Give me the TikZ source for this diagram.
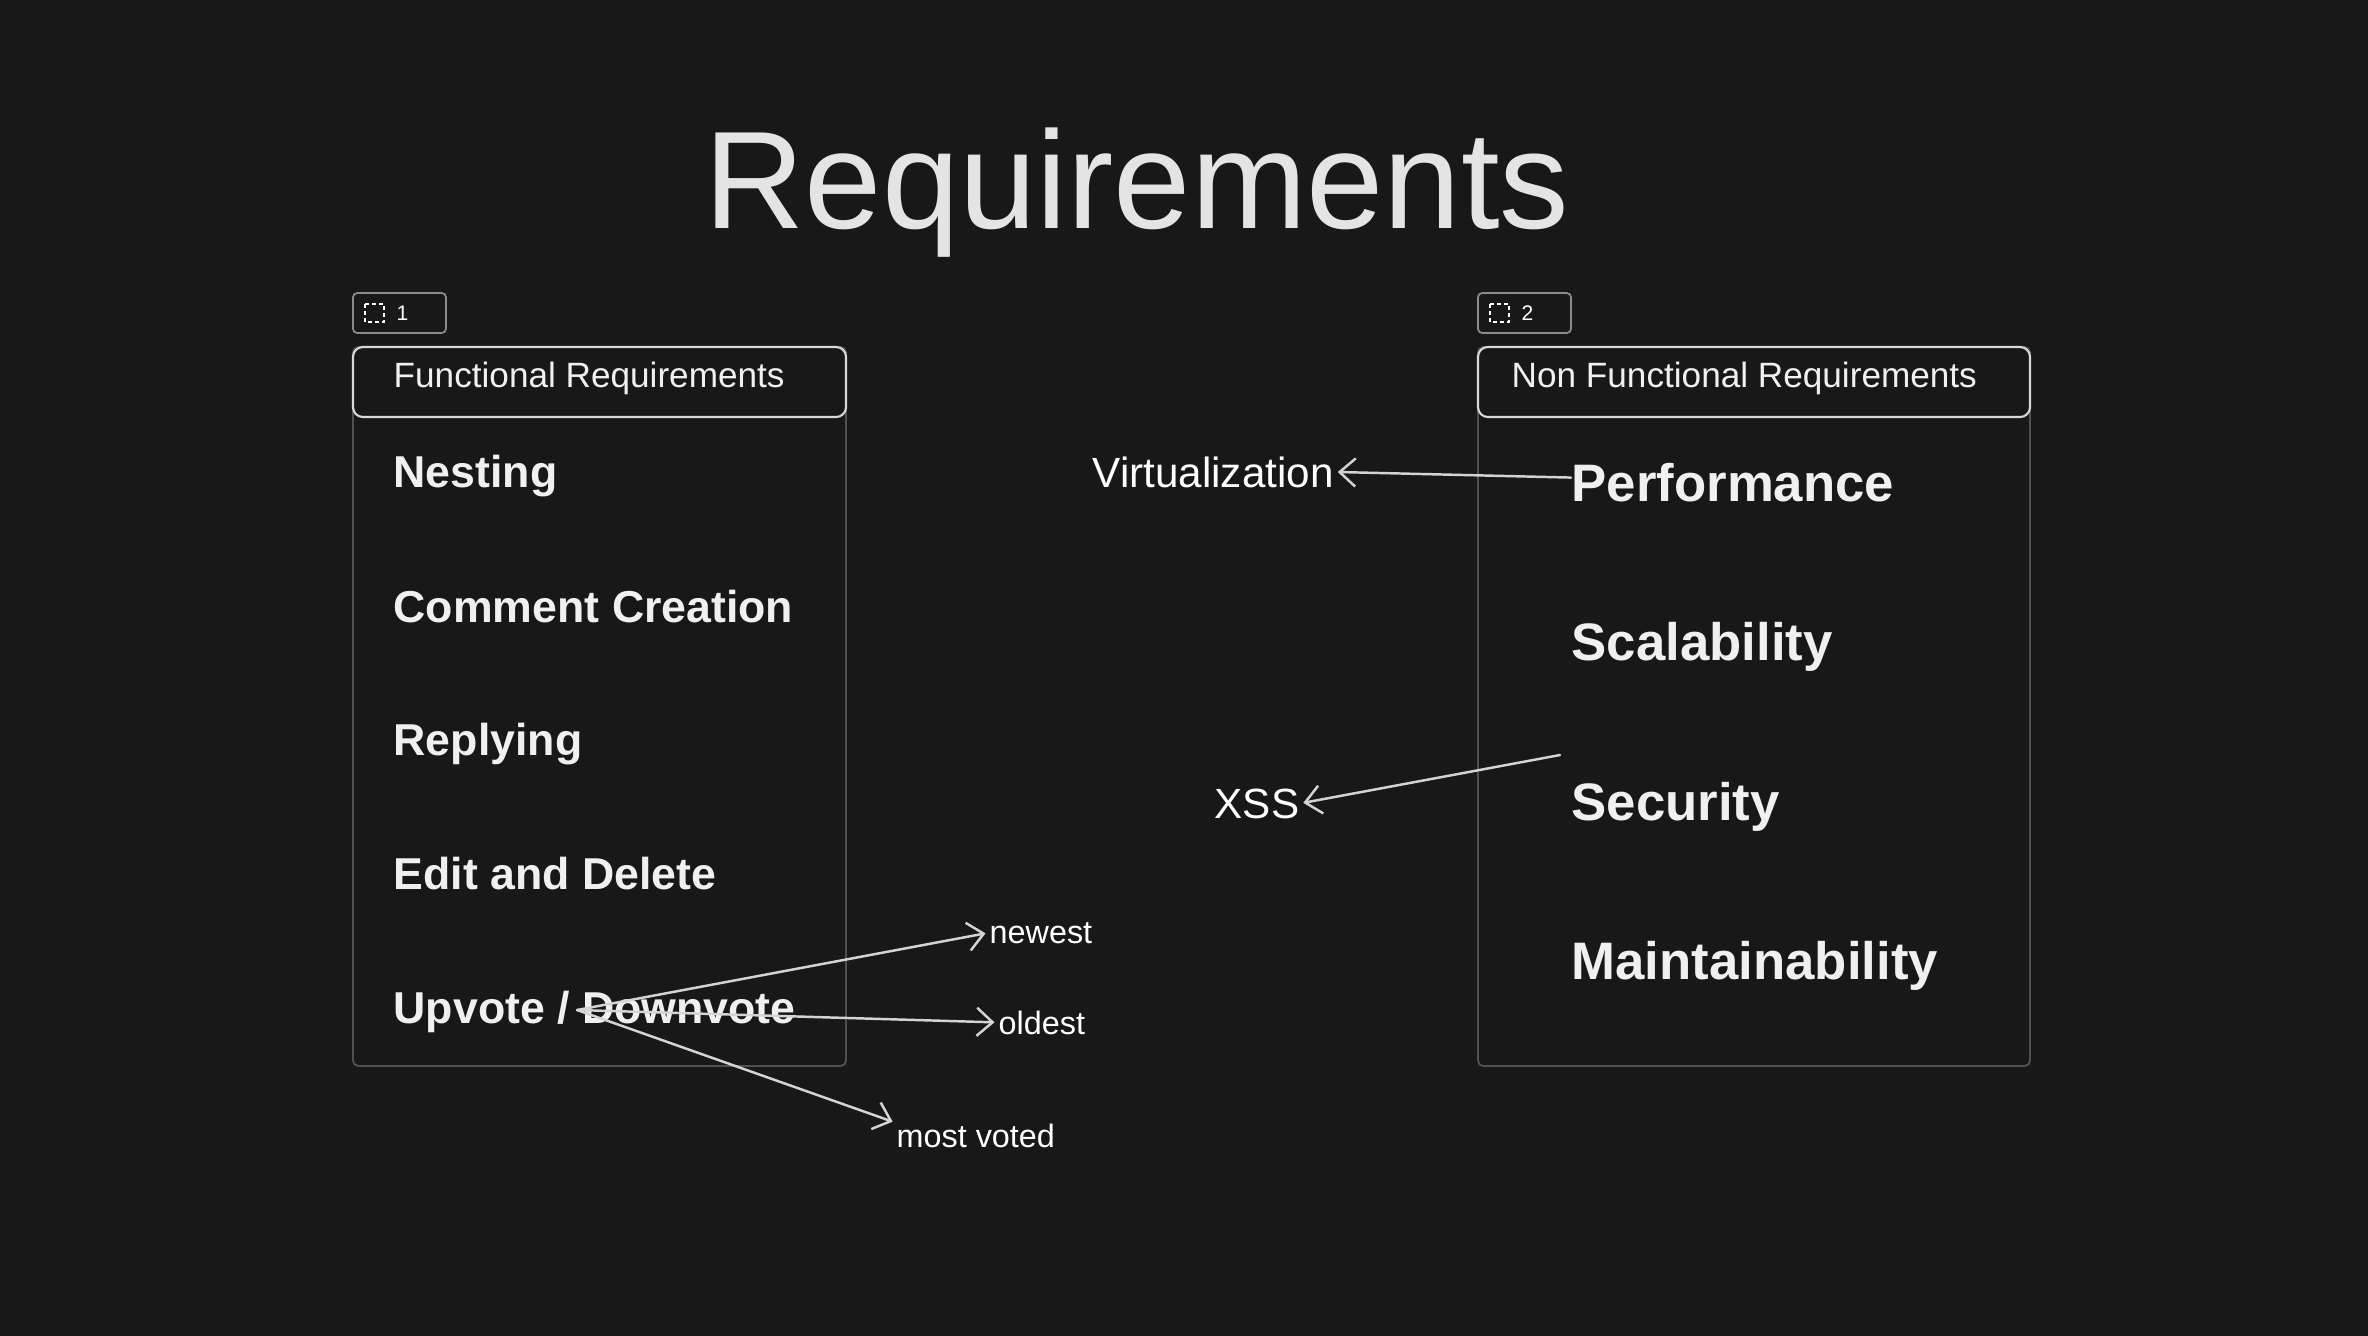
\documentclass[tikz,border=0pt]{standalone}
\usepackage{fontspec}
\setmainfont{Liberation Sans}
\usetikzlibrary{arrows.meta}
\definecolor{bg}{HTML}{181818}
\definecolor{framegray}{HTML}{505050}
\definecolor{taggray}{HTML}{8A8A8A}
\definecolor{hdr}{HTML}{D8D8D8}
\definecolor{txt}{HTML}{F0F0F0}
\definecolor{arr}{HTML}{D4D4D4}
\begin{document}
\begin{tikzpicture}[x=0.01cm,y=-0.01cm,
  txtnode/.style={inner sep=0pt, anchor=base west, text=txt},
  titletext/.style={txtnode, text=txt!95!black, font=\fontsize{39.5}{46}\selectfont},
  hdrtext/.style={txtnode, font=\fontsize{10}{12}\selectfont},
  tagtext/.style={txtnode, text=white, font=\fontsize{6}{7}\selectfont},
  litem/.style={txtnode, font=\fontsize{12.7}{15}\selectfont\bfseries},
  ritem/.style={txtnode, font=\fontsize{15}{18}\selectfont\bfseries},
  note/.style={txtnode, text=white, font=\fontsize{12}{14}\selectfont},
  small/.style={txtnode, text=white, font=\fontsize{9.2}{11}\selectfont},
  arrowline/.style={draw=arr, line width=0.7pt, line cap=round, shorten >=1pt,
    -{Straight Barb[length=4.5pt,width=8pt,line width=0.7pt]}},
  framebox/.style={draw=framegray, line width=0.55pt, rounded corners=1.5pt},
  headerbox/.style={draw=hdr, line width=0.6pt, rounded corners=2.8pt},
  tagbox/.style={draw=taggray, line width=0.5pt, rounded corners=1.2pt},
  tagicon/.style={draw=white, line width=0.45pt, dash pattern=on 1pt off 1pt}
]
\useasboundingbox (0,0) rectangle (2368,1336);
\fill[bg] (0,0) rectangle (2368,1336);

% title
\node[titletext] (title) at (704,228) {Requirements};

% frame 1
\draw[tagbox] (353,293) rectangle (446,333);
\draw[tagicon] (365,304) rectangle (384,322);
\node[tagtext] (tag1) at (396,320) {1};
\draw[framebox] (353,347) rectangle (846,1066);
\draw[headerbox] (353,347) rectangle (846,417);
\node[hdrtext] (h1) at (393,387) {Functional Requirements};
\node[litem] (nest) at (393,487) {Nesting};
\node[litem] (comm) at (393,622) {Comment Creation};
\node[litem] (repl) at (393,755) {Replying};
\node[litem] (edit) at (393,889) {Edit and Delete};
\node[litem] (vote) at (393,1023) {Upvote / Downvote};

% frame 2
\draw[tagbox] (1478,293) rectangle (1571,333);
\draw[tagicon] (1490,304) rectangle (1509,322);
\node[tagtext] (tag2) at (1521,320) {2};
\draw[framebox] (1478,347) rectangle (2030,1066);
\draw[headerbox] (1478,347) rectangle (2030,417);
\node[hdrtext] (h2) at (1511,387) {Non Functional Requirements};
\node[ritem] (perf) at (1571,501) {Performance};
\node[ritem] (scal) at (1571,660) {Scalability};
\node[ritem] (secu) at (1571,820) {Security};
\node[ritem] (main) at (1571,979) {Maintainability};

% side notes
\node[note] (virt) at (1092,487) {Virtualization};
\node[note] (xss) at (1214,818) {XSS};
\node[small] (newest) at (989,943) {newest};
\node[small] (oldest) at (998,1034) {oldest};
\node[small] (mostv) at (896,1147) {most voted};

% connectors
\coordinate (vs) at (577,1010);
\coordinate (secfrom) at (1560,755);
\draw[arrowline] ([yshift=1.3pt]perf.west) -- (virt.east);
\draw[arrowline] (secfrom) -- (xss.east);
\draw[arrowline] (vs) -- (newest.west);
\draw[arrowline] (vs) -- (oldest.west);
\draw[arrowline] (vs) -- (mostv.north west);
\end{tikzpicture}
\end{document}
